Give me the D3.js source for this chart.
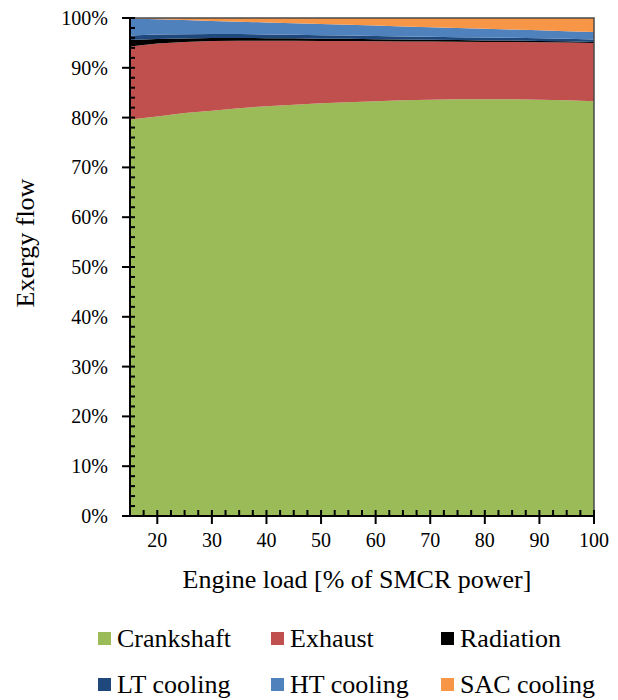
<!DOCTYPE html>
<html><head><meta charset="utf-8">
<script src="https://cdn.jsdelivr.net/npm/d3@7"></script>
<style>
html,body{margin:0;padding:0;background:#fff;}
</style></head>
<body><svg id="chart" width="618" height="700"></svg>
<script>
const loads = [15,20,25,30,35,40,45,50,55,60,65,70,75,80,85,90,95,100];
const crankshaft = [79.6,80.2,80.9,81.4,81.9,82.3,82.6,82.9,83.1,83.3,83.5,83.6,83.7,83.7,83.7,83.6,83.5,83.3];
const exhaust    = [14.7,14.7,14.3,14.0,13.55,13.15,12.85,12.5,12.3,12.05,11.8,11.7,11.55,11.5,11.5,11.55,11.6,11.7];
const radiation  = [1.3,0.9,0.7,0.6,0.55,0.5,0.47,0.45,0.42,0.4,0.37,0.35,0.32,0.3,0.27,0.25,0.22,0.2];
const ltCooling  = [0.9,0.88,0.85,0.8,0.78,0.75,0.72,0.7,0.68,0.65,0.63,0.6,0.58,0.56,0.54,0.52,0.51,0.5];
const htCooling  = [3.4,3.06,2.83,2.62,2.48,2.41,2.31,2.24,2.13,2.07,2.01,1.9,1.84,1.77,1.67,1.6,1.53,1.5];
const sacCooling = [0.1,0.26,0.42,0.58,0.74,0.89,1.05,1.21,1.37,1.53,1.69,1.85,2.01,2.17,2.32,2.48,2.64,2.8];
const seriesNames = ["Crankshaft","Exhaust","Radiation","LT cooling","HT cooling","SAC cooling"];
const seriesColors = ["#9BBB59","#C0504D","#000000","#1F497D","#4F81BD","#F79646"];
const xTickLabels = [20,30,40,50,60,70,80,90,100];
const yTickLabels = [0,10,20,30,40,50,60,70,80,90,100];

const seriesValues = [crankshaft, exhaust, radiation, ltCooling, htCooling, sacCooling];
const table = loads.map((l,i)=>{const o={load:l}; seriesNames.forEach((n,k)=>o[n]=seriesValues[k][i]); return o;});

const FONT = "'Liberation Serif', serif";
const svg = d3.select("#chart");
const L=130, R=594, T=18, B=516;
const x = d3.scaleLinear().domain([15,100]).range([L,R]);
const y = d3.scaleLinear().domain([0,100]).range([B,T]);

function txt(sel, size){
  return sel.attr("font-family",FONT).attr("font-size",size)
    .style("font-family",FONT,"important").style("font-size",size+"px","important").style("fill","#000");
}

const stack = d3.stack().keys(seriesNames)(table);
const area = d3.area().x(d=>x(d.data.load)).y0(d=>y(d[0])).y1(d=>y(d[1]));
svg.append("g").selectAll("path").data(stack).join("path")
  .attr("d",area).attr("fill",(d,i)=>seriesColors[i]);

// plot border (top/right)
svg.append("path").attr("d",`M${L},${T}H${R}V${B}`).attr("fill","none")
  .attr("stroke","#4a4a4a").attr("stroke-width",1.5);

// y axis
const gy = svg.append("g");
gy.append("line").attr("x1",L).attr("x2",L).attr("y1",T-1).attr("y2",B+1).attr("stroke","#000").attr("stroke-width",2);
d3.range(0,100.1,2).forEach(v=>{
  const major = v%10===0;
  gy.append("line").attr("x1",major?L-8:L).attr("x2",L+5).attr("y1",y(v)).attr("y2",y(v))
    .attr("stroke","#000").attr("stroke-width",2);
});
txt(gy.selectAll("text").data(yTickLabels).join("text")
  .attr("x",108).attr("y",d=>y(d)+7).attr("text-anchor","end"), 20)
  .text(d=>d+"%");

// x axis
const gx = svg.append("g");
gx.append("line").attr("x1",L-1).attr("x2",R+1).attr("y1",B).attr("y2",B).attr("stroke","#000").attr("stroke-width",2);
d3.range(17.5,100.1,2.5).forEach(v=>{
  const major = v%10===0;
  gx.append("line").attr("x1",x(v)).attr("x2",x(v)).attr("y1",major?B+8:B).attr("y2",B-6)
    .attr("stroke","#000").attr("stroke-width",2);
});
txt(gx.selectAll("text").data(xTickLabels).join("text")
  .attr("x",d=>x(d)).attr("y",547).attr("text-anchor","middle"), 20)
  .text(d=>d);

// titles
txt(svg.append("text").attr("x",357).attr("y",588).attr("text-anchor","middle"), 26)
  .text("Engine load [% of SMCR power]");
txt(svg.append("text").attr("transform","translate(34,243) rotate(-90)").attr("text-anchor","middle"), 26)
  .text("Exergy flow");

// legend
const legX=[98,271,441], legY=[638,684];
seriesNames.forEach((n,i)=>{
  const c=i%3, r=Math.floor(i/3);
  svg.append("rect").attr("x",legX[c]).attr("y",legY[r]-6).attr("width",13).attr("height",13).attr("fill",seriesColors[i]);
  txt(svg.append("text").attr("x",legX[c]+19).attr("y",legY[r]+9), 26).text(n);
});
</script></body></html>
